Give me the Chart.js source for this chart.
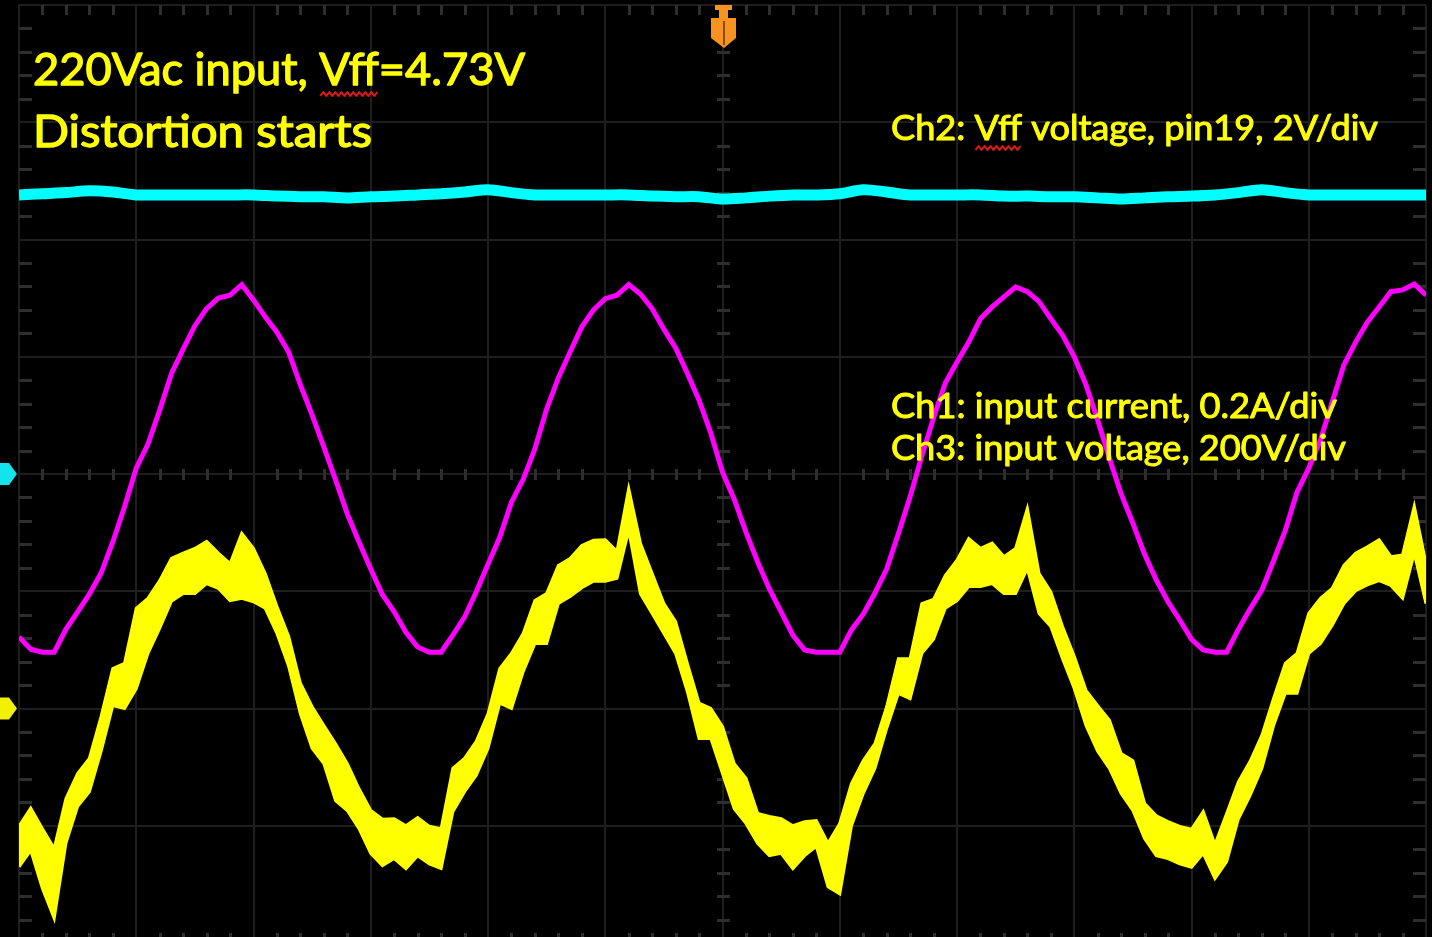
<!DOCTYPE html>
<html>
<head>
<meta charset="utf-8">
<title>220Vac input, Vff=4.73V - Distortion starts</title>
<script src="https://cdn.jsdelivr.net/npm/chart.js@4.4.1/dist/chart.umd.min.js"></script>
<style>
    html, body { margin: 0; padding: 0; background: #000; overflow: hidden; }
    canvas { display: block; }
</style>
</head>
<body>
<canvas id="scope" width="1432" height="950"></canvas>
<script>
// Scope capture: 5 ms/div, 12 div across
// Ch1 input current 0.2A/div, Ch2 Vff 2V/div, Ch3 input voltage 200V/div

// sample times (ms)
const timeFine = [
    0, 0.5, 1, 1.5, 2, 2.5, 3, 3.5, 4, 4.5, 5, 5.5, 6, 6.5, 7, 7.5, 8, 8.5, 9, 9.5,
    10, 10.5, 11, 11.5, 12, 12.5, 13, 13.5, 14, 14.5, 15, 15.5, 16, 16.5, 17, 17.5, 18, 18.5, 19, 19.5,
    20, 20.5, 21, 21.5, 22, 22.5, 23, 23.5, 24, 24.5, 25, 25.5, 26, 26.5, 27, 27.5, 28, 28.5, 29, 29.5,
    30, 30.5, 31, 31.5, 32, 32.5, 33, 33.5, 34, 34.5, 35, 35.5, 36, 36.5, 37, 37.5, 38, 38.5, 39, 39.5,
    40, 40.5, 41, 41.5, 42, 42.5, 43, 43.5, 44, 44.5, 45, 45.5, 46, 46.5, 47, 47.5, 48, 48.5, 49, 49.5,
    50, 50.5, 51, 51.5, 52, 52.5, 53, 53.5, 54, 54.5, 55, 55.5, 56, 56.5, 57, 57.5, 58, 58.5, 59, 59.5,
    60
];
const timeCoarse = [
    0, 1, 2, 3, 4, 5, 6, 7, 8, 9, 10, 11, 12, 13, 14, 15, 16, 17, 18, 19,
    20, 21, 22, 23, 24, 25, 26, 27, 28, 29, 30, 31, 32, 33, 34, 35, 36, 37, 38, 39,
    40, 41, 42, 43, 44, 45, 46, 47, 48, 49, 50, 51, 52, 53, 54, 55, 56, 57, 58, 59,
    60
];

// Ch1: input current (mA), on the fine time base
const ch1Current = [
    -278, -299, -304, -304, -265, -235, -205, -169, -116, -56,
    10, 51, 109, 171, 213, 253, 282, 300, 305, 323,
    297, 268, 242, 208, 152, 101, 46, -10, -68, -116,
    -162, -206, -235, -270, -295, -304, -304, -275, -244, -201,
    -154, -108, -48, -9, 43, 111, 164, 208, 251, 280,
    299, 305, 323, 307, 282, 247, 215, 172, 126, 70,
    3, -43, -99, -150, -196, -235, -275, -300, -304, -304,
    -304, -266, -239, -203, -162, -102, -39, 31, 96, 155,
    191, 225, 265, 285, 302, 319, 311, 294, 265, 237,
    200, 152, 92, 27, -34, -84, -137, -181, -218, -249,
    -282, -300, -304, -304, -265, -230, -198, -148, -96, -31,
    10, 58, 123, 186, 225, 259, 285, 311, 314, 324,
    305
];

// Ch2: Vff voltage at pin19 (V), on the coarse time base
const ch2Vff = [
    4.76, 4.78, 4.80, 4.83, 4.81, 4.76, 4.76, 4.76, 4.76, 4.76,
    4.76, 4.74, 4.73, 4.73, 4.71, 4.73, 4.74, 4.76, 4.78, 4.81,
    4.85, 4.80, 4.76, 4.76, 4.76, 4.76, 4.76, 4.74, 4.73, 4.73,
    4.69, 4.71, 4.74, 4.76, 4.76, 4.78, 4.85, 4.81, 4.76, 4.76,
    4.76, 4.76, 4.74, 4.74, 4.73, 4.73, 4.71, 4.69, 4.71, 4.73,
    4.74, 4.76, 4.80, 4.85, 4.80, 4.76, 4.76, 4.76, 4.76, 4.76,
    4.76
];

// Ch3: input voltage (V), noisy trace -> upper and lower edge of the band
const ch3Upper = [
    -201, -170, -205, -239, -154, -111, -85, -14, 68, 77,
    171, 188, 218, 256, 265, 273, 285, 265, 247, 299,
    273, 230, 174, 123, 43, 3, -29, -60, -94, -137,
    -174, -189, -188, -200, -186, -201, -205, -102, -85, -56,
    -9, 68, 94, 128, 184, 196, 244, 256, 278, 287,
    288, 268, 375, 282, 230, 179, 148, 77, 9, 0,
    -31, -94, -119, -179, -184, -188, -200, -193, -191, -230,
    -196, -128, -89, -60, 3, 85, 85, 179, 186, 227,
    253, 290, 273, 282, 259, 273, 341, 230, 199, 140,
    89, 31, 5, -20, -77, -89, -162, -183, -193, -201,
    -206, -176, -232, -179, -125, -90, -46, 17, 77, 94,
    162, 188, 205, 244, 265, 276, 288, 259, 262, 345,
    247
];
const ch3Lower = [
    -270, -242, -307, -358, -230, -167, -142, -73, 5, 0,
    34, 94, 137, 183, 196, 196, 213, 205, 184, 188,
    182, 171, 128, 72, -9, -68, -94, -157, -174, -205,
    -247, -268, -256, -273, -251, -265, -273, -176, -142, -114,
    -68, 9, 0, 63, 111, 111, 179, 191, 206, 217,
    217, 222, 304, 196, 162, 128, 94, 29, -51, -51,
    -111, -171, -196, -230, -251, -247, -273, -251, -235, -304,
    -316, -200, -145, -102, -34, 26, 17, 94, 118, 171,
    184, 208, 208, 213, 196, 196, 239, 162, 140, 85,
    34, -29, -73, -102, -145, -174, -222, -251, -256, -265,
    -271, -247, -290, -261, -188, -148, -102, -29, 26, 26,
    94, 111, 142, 179, 201, 211, 218, 210, 188, 265,
    179
];

const titleLines = ['220Vac input, Vff=4.73V', 'Distortion starts'];
const channelNotes = [
    'Ch2: Vff voltage, pin19, 2V/div',
    'Ch1: input current, 0.2A/div',
    'Ch3: input voltage, 200V/div'
];

const GRID = '#1e1e1e';
const TICK = '#2e2e2e';

function pairs(xs, ys) {
    return ys.map((v, i) => ({ x: xs[i], y: v }));
}

// draw text squeezed/stretched to a given width, slightly emboldened
function fitText(ctx, text, x, y, w) {
    const m = ctx.measureText(text).width;
    const s = w / m;
    ctx.save();
    ctx.translate(x, y);
    ctx.scale(s, 1);
    ctx.fillText(text, 0, 0);
    ctx.strokeText(text, 0, 0);
    ctx.restore();
    return s;
}

// red spell-check squiggle
function squiggle(ctx, x0, x1, y) {
    ctx.save();
    ctx.strokeStyle = '#e01818';
    ctx.lineWidth = 2;
    ctx.beginPath();
    let up = true;
    ctx.moveTo(x0, y + 2);
    for (let x = x0 + 3; x <= x1; x += 3) {
        ctx.lineTo(x, up ? y - 2 : y + 2);
        up = !up;
    }
    ctx.stroke();
    ctx.restore();
}

const scopeScreen = {
    id: 'scopeScreen',
    beforeDraw(chart) {
        const { ctx, width, height } = chart;
        ctx.save();
        ctx.fillStyle = '#000';
        ctx.fillRect(0, 0, width, height);
        ctx.restore();
    },
    beforeDatasetsDraw(chart) {
        const { ctx, chartArea: a, scales } = chart;
        const x = scales.x, y = scales.yCh2;
        const cx = Math.round(x.getPixelForValue(30));
        const cy = Math.round(y.getPixelForValue(0));
        ctx.save();
        ctx.fillStyle = TICK;
        // minor ticks, 5 per division
        for (let k = 1; k < 60; k++) {
            if (k % 5 === 0) continue;
            const px = Math.round(x.getPixelForValue(k));
            ctx.fillRect(px - 1, cy - 5, 3, 11);
            ctx.fillRect(px - 1, a.top, 3, 10);
            ctx.fillRect(px - 1, a.bottom - 10, 3, 10);
        }
        for (let k = -19; k < 20; k++) {
            if (k % 5 === 0) continue;
            const py = Math.round(y.getPixelForValue(k * 0.4));
            ctx.fillRect(cx - 6, py - 1, 13, 3);
            ctx.fillRect(a.left, py - 1, 13, 3);
            ctx.fillRect(a.right - 13, py - 1, 13, 3);
        }
        ctx.restore();
    },
    afterDraw(chart) {
        const { ctx, scales } = chart;
        ctx.save();

        // ground markers on the left edge
        const marker = (py, color) => {
            ctx.fillStyle = color;
            ctx.beginPath();
            ctx.moveTo(0, py - 11);
            ctx.lineTo(9, py - 11);
            ctx.lineTo(17, py);
            ctx.lineTo(9, py + 11);
            ctx.lineTo(0, py + 11);
            ctx.closePath();
            ctx.fill();
        };
        marker(scales.yCh2.getPixelForValue(0), '#12e4ec');
        marker(scales.yCh3.getPixelForValue(0), '#f2f200');

        // trigger position marker
        const tx = Math.round(scales.x.getPixelForValue(30));
        const top = chart.chartArea.top;
        ctx.fillStyle = '#f7931e';
        ctx.fillRect(tx - 8, top, 17, 5);
        ctx.fillRect(tx - 4, top + 5, 9, 8);
        ctx.beginPath();
        ctx.moveTo(tx - 12, top + 13);
        ctx.lineTo(tx + 13, top + 13);
        ctx.lineTo(tx + 13, top + 33);
        ctx.lineTo(tx + 1, top + 43);
        ctx.lineTo(tx - 12, top + 33);
        ctx.closePath();
        ctx.fill();
        ctx.fillStyle = '#8a4a08';
        ctx.fillRect(tx, top + 16, 2, 24);

        // annotations
        ctx.fillStyle = '#ffff00';
        ctx.strokeStyle = '#ffff00';
        ctx.lineWidth = 1.3;
        ctx.lineJoin = 'round';
        ctx.textBaseline = 'alphabetic';
        ctx.font = '44px Lato';
        const s1 = fitText(ctx, titleLines[0], 33, 85, 492);
        const pre1 = 33 + ctx.measureText('220Vac input, ').width * s1;
        const vff1 = ctx.measureText('Vff').width * s1;
        fitText(ctx, titleLines[1], 33, 147, 339);
        squiggle(ctx, pre1 + 1, pre1 + vff1, 94);

        ctx.lineWidth = 1;
        ctx.font = '34px Lato';
        const s2 = fitText(ctx, channelNotes[0], 891, 140, 487);
        const pre2 = 891 + ctx.measureText('Ch2: ').width * s2;
        const vff2 = ctx.measureText('Vff').width * s2;
        fitText(ctx, channelNotes[1], 891, 418, 446);
        fitText(ctx, channelNotes[2], 891, 460, 455);
        squiggle(ctx, pre2 + 1, pre2 + vff2, 148);

        ctx.restore();
    }
};

const gridOpts = { color: GRID, lineWidth: 2, drawTicks: false };
const borderOpts = { color: GRID, width: 2 };

new Chart(document.getElementById('scope'), {
    type: 'line',
    data: {
        datasets: [
            {
                label: 'Ch2',
                data: pairs(timeCoarse, ch2Vff),
                yAxisID: 'yCh2',
                borderColor: '#00ffff',
                borderWidth: 11,
                pointRadius: 0,
                tension: 0.3
            },
            {
                label: 'Ch1',
                data: pairs(timeFine, ch1Current),
                yAxisID: 'yCh1',
                borderColor: '#ff00ff',
                borderWidth: 5,
                pointRadius: 0,
                tension: 0
            },
            {
                label: 'Ch3 upper',
                data: pairs(timeFine, ch3Upper),
                yAxisID: 'yCh3',
                borderColor: '#ffff00',
                borderWidth: 3,
                pointRadius: 0,
                fill: false
            },
            {
                label: 'Ch3 lower',
                data: pairs(timeFine, ch3Lower),
                yAxisID: 'yCh3',
                borderColor: '#ffff00',
                backgroundColor: '#ffff00',
                borderWidth: 3,
                pointRadius: 0,
                fill: '-1'
            }
        ]
    },
    options: {
        responsive: false,
        animation: false,
        events: [],
        layout: { padding: { left: 19, top: 5, right: 6, bottom: 7 } },
        plugins: {
            legend: { display: false },
            tooltip: { enabled: false }
        },
        scales: {
            x: {
                type: 'linear',
                min: 0,
                max: 60,
                ticks: { display: false, stepSize: 5 },
                grid: gridOpts,
                border: borderOpts
            },
            yCh2: {
                position: 'left',
                min: -8,
                max: 8,
                ticks: { display: false, stepSize: 2 },
                grid: gridOpts,
                border: borderOpts
            },
            yCh1: { display: false, min: -800, max: 800 },
            yCh3: { display: false, min: -400, max: 1200 }
        }
    },
    plugins: [scopeScreen]
});
</script>
</body>
</html>
